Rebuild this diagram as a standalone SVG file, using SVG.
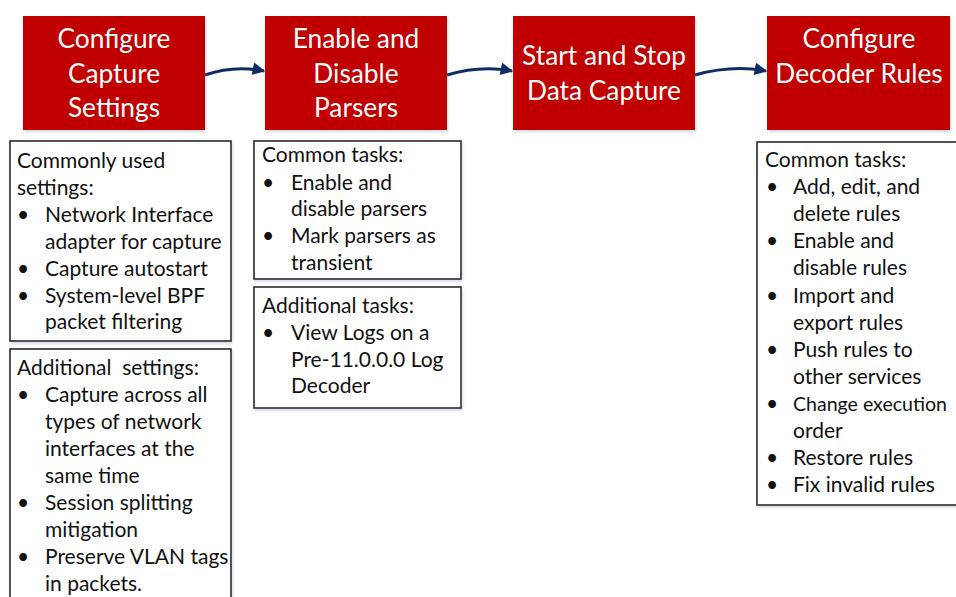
<svg xmlns="http://www.w3.org/2000/svg" width="956" height="597" viewBox="0 0 956 597">
<defs>
<style>
.step{fill:#C00000;}
.stxt{fill:#fff;font-family:Lato,"Carlito","Liberation Sans",sans-serif;font-size:26.3px;text-anchor:middle;}
.box{fill:#fff;stroke:#2b2b2b;stroke-width:1.6;}
.t{fill:#111;font-family:Lato,"Carlito","Liberation Sans",sans-serif;font-size:21px;}
.conn{fill:none;stroke:#0F2D63;stroke-width:3;}
</style>
<marker id="ah" viewBox="0 0 10 10" refX="9" refY="5" markerWidth="4.4" markerHeight="4.2" markerUnits="strokeWidth" orient="auto">
<path d="M0,0 L10,5 L0,10 Z" fill="#0F2D63"/>
</marker>
<filter id="sh" x="-5%" y="-5%" width="115%" height="115%">
<feDropShadow dx="1" dy="2" stdDeviation="1.5" flood-color="#7f8fa6" flood-opacity="0.35"/>
</filter>
</defs>
<rect width="956" height="597" fill="#fff"/>

<g id="connectors">
<path class="conn" d="M205,75 C225,68 245,67 264,71" marker-end="url(#ah)"/>
<path class="conn" d="M447,75 C470,68 492,67 512,71" marker-end="url(#ah)"/>
<path class="conn" d="M695,75 C720,68 745,67 766,71" marker-end="url(#ah)"/>
</g>

<g id="step1">
<rect class="step" x="23" y="16" width="182" height="114" filter="url(#sh)"/>
<text class="stxt" x="114" y="48">Configure</text>
<text class="stxt" x="114" y="83">Capture</text>
<text class="stxt" x="114" y="117">Settings</text>
</g>
<g id="step2">
<rect class="step" x="265" y="16" width="182" height="114" filter="url(#sh)"/>
<text class="stxt" x="356" y="48">Enable and</text>
<text class="stxt" x="356" y="83">Disable</text>
<text class="stxt" x="356" y="117">Parsers</text>
</g>
<g id="step3">
<rect class="step" x="513" y="16" width="182" height="114" filter="url(#sh)"/>
<text class="stxt" x="604" y="65">Start and Stop</text>
<text class="stxt" x="604" y="100">Data Capture</text>
</g>
<g id="step4">
<rect class="step" x="767" y="16" width="183" height="114" filter="url(#sh)"/>
<text class="stxt" x="859" y="48">Configure</text>
<text class="stxt" x="859" y="83">Decoder Rules</text>
</g>

<g id="common-settings">
<rect class="box" x="10" y="141" width="221" height="200" filter="url(#sh)"/>
<text class="t" x="17" y="168">Commonly used</text>
<text class="t" x="17" y="195">settings:</text>
<text class="t" x="17" y="222">•</text><text class="t" x="45" y="222">Network Interface</text>
<text class="t" x="45" y="249">adapter for capture</text>
<text class="t" x="17" y="276">•</text><text class="t" x="45" y="276">Capture autostart</text>
<text class="t" x="17" y="303">•</text><text class="t" x="45" y="303">System-level BPF</text>
<text class="t" x="45" y="329">packet filtering</text>
</g>

<g id="additional-settings">
<rect class="box" x="10" y="349" width="221" height="260" filter="url(#sh)"/>
<text class="t" x="17" y="375" xml:space="preserve">Additional  settings:</text>
<text class="t" x="17" y="402">•</text><text class="t" x="45" y="402">Capture across all</text>
<text class="t" x="45" y="429">types of network</text>
<text class="t" x="45" y="456">interfaces at the</text>
<text class="t" x="45" y="483">same time</text>
<text class="t" x="17" y="510">•</text><text class="t" x="45" y="510">Session splitting</text>
<text class="t" x="45" y="537">mitigation</text>
<text class="t" x="17" y="564">•</text><text class="t" x="45" y="564">Preserve VLAN tags</text>
<text class="t" x="45" y="591">in packets.</text>
</g>

<g id="parser-common">
<rect class="box" x="254" y="141" width="207" height="138" filter="url(#sh)"/>
<text class="t" x="262" y="162">Common tasks:</text>
<text class="t" x="262" y="190">•</text><text class="t" x="291" y="190">Enable and</text>
<text class="t" x="291" y="216">disable parsers</text>
<text class="t" x="262" y="243">•</text><text class="t" x="291" y="243">Mark parsers as</text>
<text class="t" x="291" y="270">transient</text>
</g>

<g id="parser-additional">
<rect class="box" x="254" y="287" width="207" height="121" filter="url(#sh)"/>
<text class="t" x="262" y="313">Additional tasks:</text>
<text class="t" x="262" y="340">•</text><text class="t" x="291" y="340">View Logs on a</text>
<text class="t" x="291" y="367">Pre-11.0.0.0 Log</text>
<text class="t" x="291" y="393">Decoder</text>
</g>

<g id="rules-common">
<rect class="box" x="757" y="142" width="210" height="363" filter="url(#sh)"/>
<text class="t" x="765" y="167">Common tasks:</text>
<text class="t" x="766" y="194">•</text><text class="t" x="793" y="194">Add, edit, and</text>
<text class="t" x="793" y="221">delete rules</text>
<text class="t" x="766" y="248">•</text><text class="t" x="793" y="248">Enable and</text>
<text class="t" x="793" y="275">disable rules</text>
<text class="t" x="766" y="303">•</text><text class="t" x="793" y="303">Import and</text>
<text class="t" x="793" y="330">export rules</text>
<text class="t" x="766" y="357">•</text><text class="t" x="793" y="357">Push rules to</text>
<text class="t" x="793" y="384">other services</text>
<text class="t" x="766" y="411">•</text><text class="t" x="793" y="411" style="font-size:20px" textLength="154" lengthAdjust="spacingAndGlyphs">Change execution</text>
<text class="t" x="793" y="438">order</text>
<text class="t" x="766" y="465">•</text><text class="t" x="793" y="465">Restore rules</text>
<text class="t" x="766" y="492">•</text><text class="t" x="793" y="492">Fix invalid rules</text>
</g>
</svg>
